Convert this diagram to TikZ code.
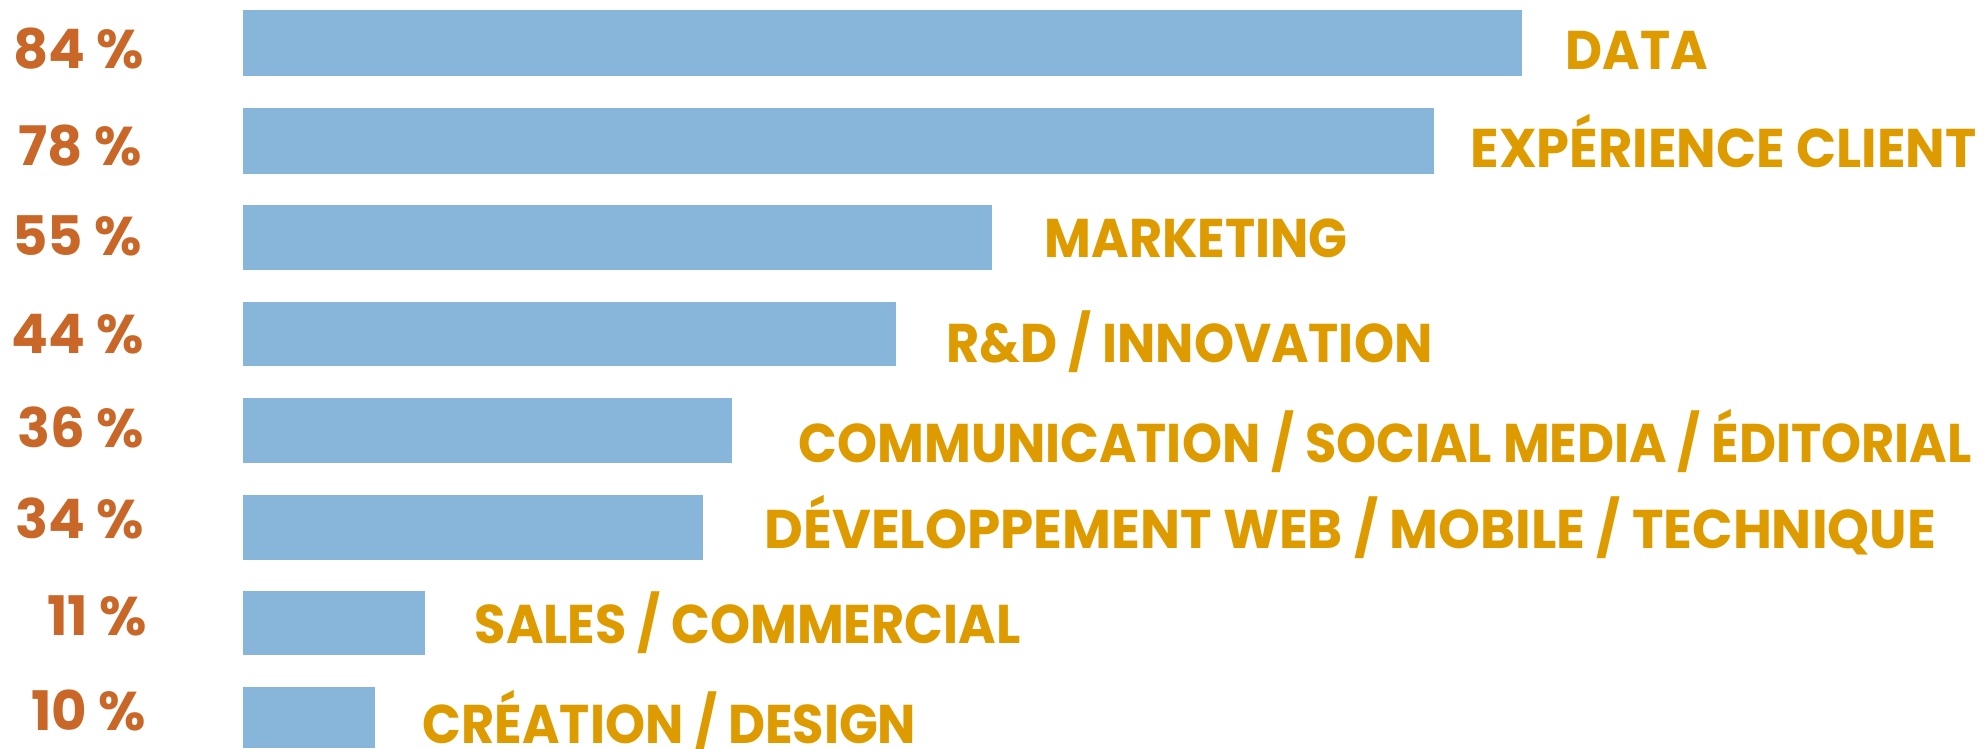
\documentclass[tikz,border=0pt]{standalone}
\usepackage{fontspec}
\setmainfont{Poppins}
\newfontfamily\labfont{Poppins}[FakeStretch=0.935]
\definecolor{mbar}{RGB}{136,181,218}
\definecolor{mpct}{RGB}{200,103,40}
\definecolor{mlab}{RGB}{222,155,0}
\tikzset{bar/.style = {fill = mbar}}
\tikzset{pct/.style = {anchor = base east, inner sep = 0, text = mpct,
                       font = \fontsize{15.5}{18}\selectfont\bfseries}}
\tikzset{lab/.style = {anchor = base west, inner sep = 0, text = mlab,
                       font = \labfont\fontsize{15.5}{18}\selectfont\bfseries}}

\begin{document}
\begin{tikzpicture}[x = 0.01cm, y = -0.01cm]
      \useasboundingbox (0, 0) rectangle (1987, 748);

      \fill [bar] (243, 10) rectangle (1522, 76);
      \fill [bar] (243, 108) rectangle (1434, 174);
      \fill [bar] (243, 205) rectangle (992, 270);
      \fill [bar] (243, 302) rectangle (896, 366);
      \fill [bar] (243, 398) rectangle (732, 463);
      \fill [bar] (243, 495) rectangle (703, 560);
      \fill [bar] (243, 591) rectangle (425, 655);
      \fill [bar] (243, 687) rectangle (375, 748);

      \node [pct] (p84) at (145, 68) {84 \%};
      \node [pct] (p78) at (143, 165) {78 \%};
      \node [pct] (p55) at (143, 255) {55 \%};
      \node [pct] (p44) at (145, 353) {44 \%};
      \node [pct] (p36) at (145, 447) {36 \%};
      \node [pct] (p34) at (145, 538) {34 \%};
      \node [pct] (p11) at (148, 635) {11 \%};
      \node [pct] (p10) at (147, 730) {10 \%};

      \node [lab] (data) at (1565, 69) {DATA};
      \node [lab, xscale = 1.035, transform shape] (client) at (1470, 167) {EXPÉRIENCE CLIENT};
      \node [lab] (marketing) at (1044, 257) {MARKETING};
      \node [lab] (innovation) at (946, 362) {R\&D / INNOVATION};
      \node [lab] (editorial) at (798, 462) {COMMUNICATION / SOCIAL MEDIA / ÉDITORIAL};
      \node [lab, xscale = 1.045, transform shape] (technique) at (764, 548) {DÉVELOPPEMENT WEB / MOBILE / TECHNIQUE};
      \node [lab] (commercial) at (474, 643) {SALES / COMMERCIAL};
      \node [lab] (design) at (422, 743) {CRÉATION / DESIGN};
\end{tikzpicture}
\end{document}
